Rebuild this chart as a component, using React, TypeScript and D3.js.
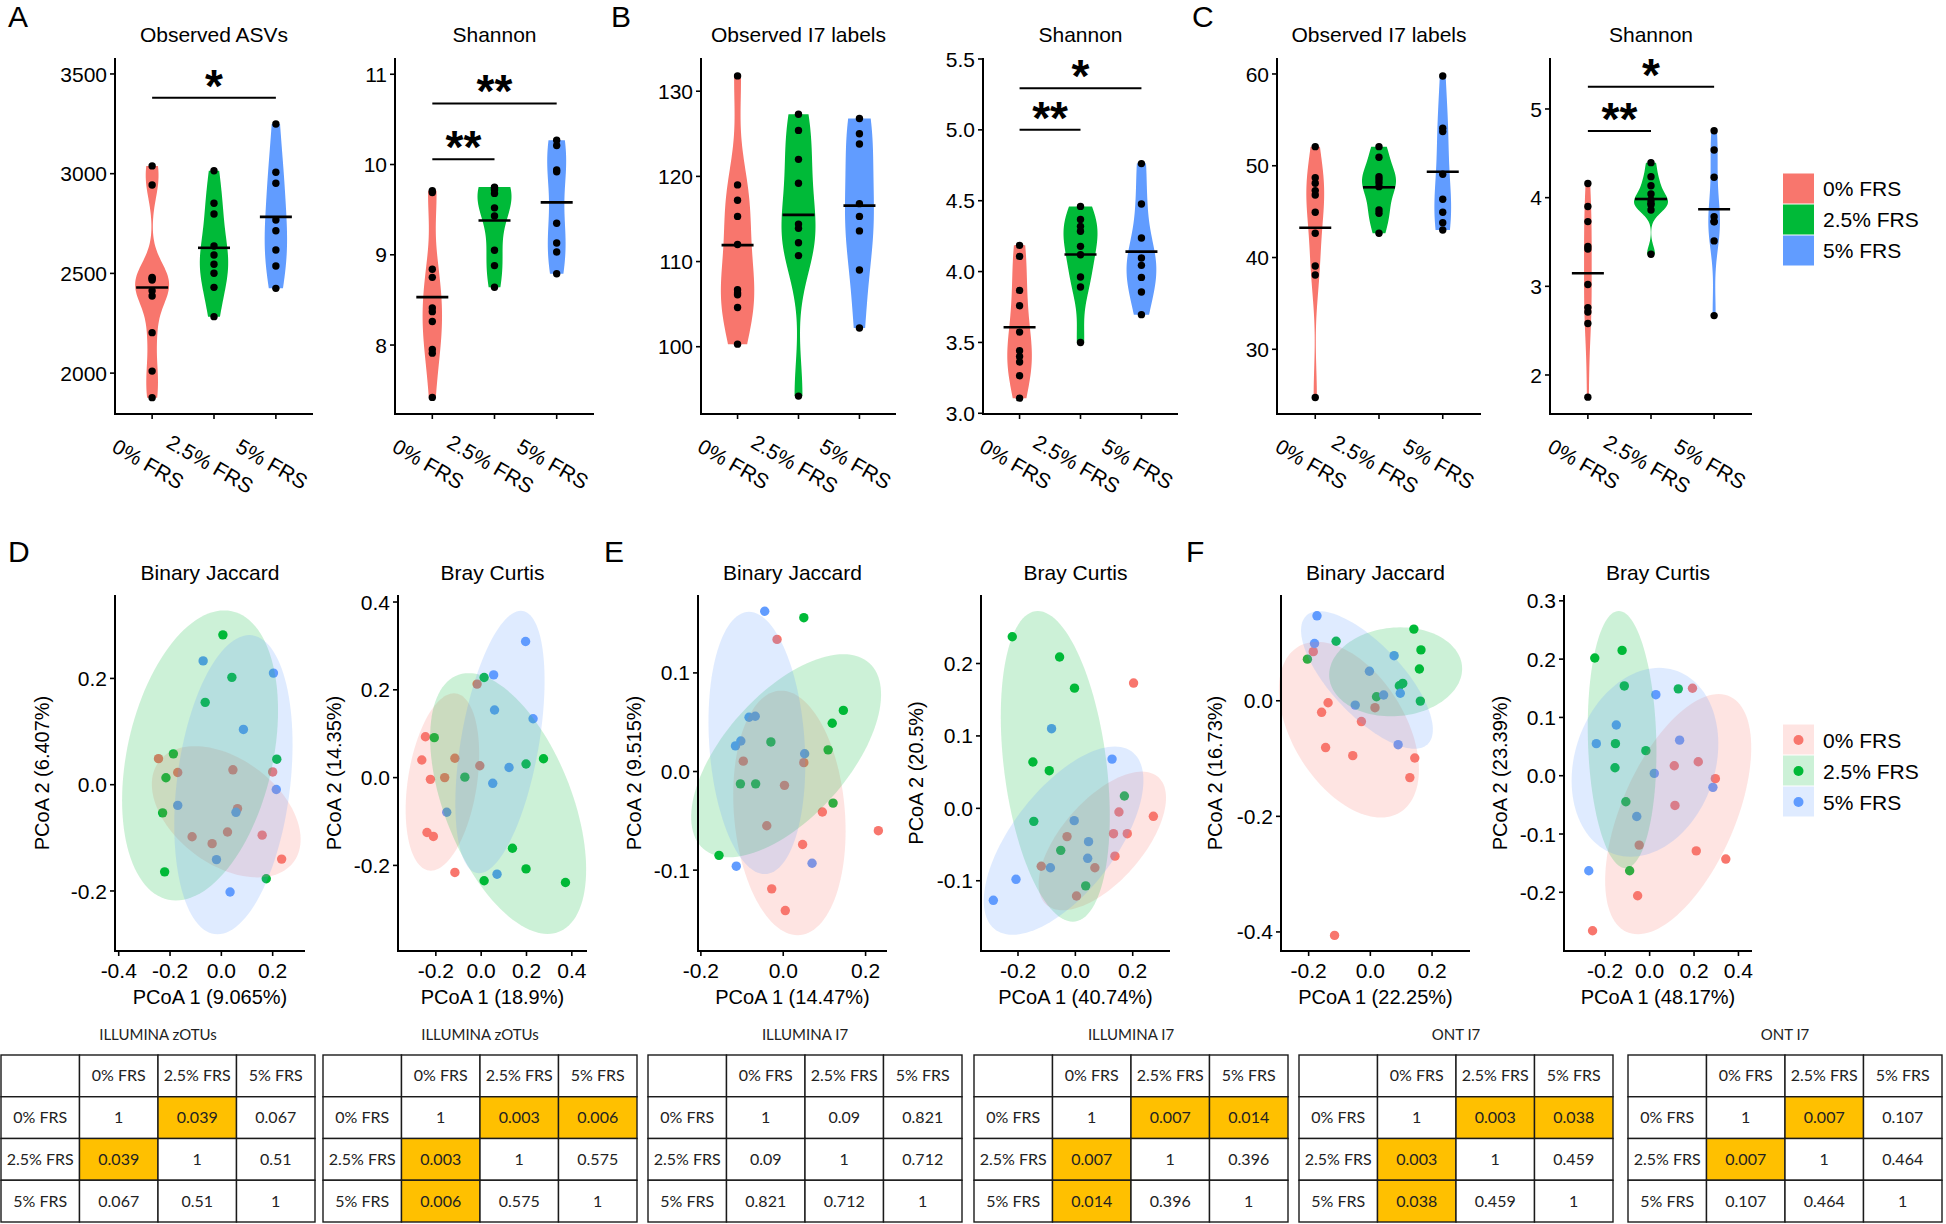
import React from "react";
import * as d3 from "d3";

// ---------- shared categories ----------
const groups = ["0% FRS", "2.5% FRS", "5% FRS"];
const groupColors = ["#F8766D", "#00BA38", "#619CFF"];

// ---------- violin data (A, B, C) ----------
const asvObserved = [
  [3039, 2943, 2480, 2475, 2467, 2413, 2387, 2203, 2010, 1877],
  [3015, 2852, 2798, 2637, 2592, 2546, 2501, 2430, 2283],
  [3249, 3007, 2952, 2768, 2714, 2617, 2537, 2425],
];
const asvShannon = [
  [9.71, 9.69, 8.84, 8.75, 8.41, 8.37, 8.26, 7.95, 7.91, 7.42],
  [9.75, 9.74, 9.72, 9.68, 9.52, 9.43, 9.05, 8.88, 8.64],
  [10.27, 10.21, 9.94, 9.92, 9.35, 9.13, 9.03, 8.79],
];
const illuminaObserved = [
  [131.8, 119.0, 117.2, 115.3, 112.0, 106.7, 106.3, 106.1, 104.6, 100.3],
  [127.3, 125.4, 122.0, 119.2, 114.4, 113.9, 112.2, 110.7, 94.2],
  [126.8, 125.0, 123.8, 116.8, 115.3, 113.6, 109.0, 102.2],
];
const illuminaShannon = [
  [4.185, 4.107, 3.867, 3.759, 3.573, 3.441, 3.401, 3.362, 3.265, 3.107],
  [4.46, 4.367, 4.319, 4.284, 4.178, 4.119, 3.962, 3.891, 3.5],
  [4.762, 4.477, 4.237, 4.096, 4.044, 3.959, 3.856, 3.696],
];
const ontObserved = [
  [52.08, 48.7, 48.09, 47.29, 46.82, 44.93, 42.65, 39.08, 38.1, 24.74],
  [52.08, 50.93, 48.81, 48.5, 48.16, 47.72, 45.19, 44.83, 42.65],
  [59.78, 54.08, 53.72, 49.07, 46.35, 44.93, 43.8, 43.0],
];
const ontShannon = [
  [4.16, 3.9, 3.73, 3.45, 3.42, 3.02, 2.76, 2.71, 2.58, 1.75],
  [4.395, 4.237, 4.135, 4.042, 3.974, 3.937, 3.92, 3.86, 3.362],
  [4.755, 4.538, 4.23, 3.786, 3.73, 3.729, 3.512, 2.67],
];

// significance brackets: [fromGroup, toGroup, yValue, label]
const sigAsvObserved = [[0, 2, 3381, "*"]];
const sigAsvShannon = [[0, 2, 10.676, "**"], [0, 1, 10.059, "**"]];
const sigIlluminaShannon = [[0, 2, 5.294, "*"], [0, 1, 5.0, "**"]];
const sigOntShannon = [[0, 2, 5.251, "*"], [0, 1, 4.752, "**"]];

// y ticks
const ticksAsvObserved = [2000, 2500, 3000, 3500];
const ticksAsvShannon = [8, 9, 10, 11];
const ticksIlluminaObserved = [100, 110, 120, 130];
const ticksIlluminaShannon = [3.0, 3.5, 4.0, 4.5, 5.0, 5.5];
const ticksOntObserved = [30, 40, 50, 60];
const ticksOntShannon = [2, 3, 4, 5];

// ---------- PCoA data (D, E, F) : points per group [PCoA1, PCoA2] ----------
const pcoaD1 = [
  [[-0.245, 0.049], [-0.17, 0.023], [0.045, 0.028], [0.2, 0.024], [0.063, -0.045], [-0.114, -0.098], [0.024, -0.089], [-0.036, -0.111], [0.159, -0.095], [0.235, -0.14]],
  [[0.006, 0.282], [0.041, 0.202], [-0.063, 0.155], [-0.187, 0.058], [0.216, 0.048], [-0.216, 0.013], [-0.229, -0.053], [-0.221, -0.164], [0.175, -0.177]],
  [[-0.071, 0.233], [0.203, 0.21], [0.086, 0.104], [0.214, -0.009], [-0.17, -0.039], [0.057, -0.052], [-0.019, -0.141], [0.034, -0.202]],
];
const pcoaD2 = [
  [[-0.018, 0.213], [-0.246, 0.093], [-0.262, 0.04], [-0.116, 0.044], [-0.006, 0.027], [-0.224, -0.004], [-0.161, 0.0], [-0.239, -0.125], [-0.211, -0.134], [-0.116, -0.216]],
  [[0.013, 0.228], [-0.207, 0.091], [0.198, 0.031], [0.275, 0.043], [-0.072, 0.001], [0.138, -0.161], [0.198, -0.208], [0.013, -0.235], [0.372, -0.239]],
  [[0.196, 0.31], [0.055, 0.234], [0.059, 0.154], [0.229, 0.134], [0.123, 0.023], [0.051, -0.013], [-0.152, -0.079], [0.07, -0.22]],
];
const pcoaE1 = [
  [[-0.015, 0.134], [-0.097, 0.0105], [0.05, 0.009], [0.003, -0.014], [0.095, -0.041], [-0.04, -0.055], [0.231, -0.06], [0.047, -0.074], [-0.028, -0.119], [0.005, -0.141]],
  [[0.05, 0.156], [0.146, 0.062], [0.119, 0.049], [-0.03, 0.03], [0.109, 0.022], [-0.104, -0.0125], [-0.067, -0.0125], [0.121, -0.032], [-0.156, -0.085]],
  [[-0.045, 0.1625], [-0.083, 0.055], [-0.068, 0.056], [-0.103, 0.031], [-0.116, 0.026], [0.052, 0.018], [-0.114, -0.096], [0.07, -0.093]],
];
const pcoaE2 = [
  [[0.203, 0.173], [0.272, -0.011], [0.152, -0.005], [0.133, -0.035], [0.181, -0.035], [-0.029, -0.039], [0.138, -0.066], [-0.119, -0.08], [0.068, -0.082], [0.004, -0.121]],
  [[-0.22, 0.237], [-0.055, 0.209], [-0.003, 0.166], [-0.148, 0.064], [-0.091, 0.052], [0.171, 0.017], [-0.145, -0.018], [-0.051, -0.058], [0.036, -0.107]],
  [[-0.083, 0.11], [0.128, 0.068], [-0.004, -0.017], [0.046, -0.046], [0.043, -0.069], [-0.087, -0.082], [-0.207, -0.098], [-0.286, -0.127]],
];
const pcoaF1 = [
  [[-0.185, 0.085], [-0.137, -0.0035], [-0.158, -0.02], [0.015, -0.012], [-0.029, -0.036], [-0.145, -0.081], [-0.057, -0.095], [0.144, -0.099], [0.128, -0.133], [-0.116, -0.406]],
  [[0.141, 0.124], [-0.111, 0.103], [0.164, 0.088], [0.159, 0.055], [-0.204, 0.072], [0.105, 0.03], [0.094, 0.026], [0.02, 0.007], [0.162, -0.0006]],
  [[-0.173, 0.147], [-0.181, 0.099], [0.077, 0.078], [-0.003, 0.051], [0.043, 0.01], [0.097, 0.013], [-0.049, -0.0075], [0.09, -0.076]],
];
const pcoaF2 = [
  [[0.193, 0.15], [0.219, 0.024], [0.111, 0.017], [0.296, -0.005], [0.114, -0.051], [-0.047, -0.119], [0.21, -0.129], [0.343, -0.143], [-0.054, -0.206], [-0.257, -0.266]],
  [[-0.247, 0.202], [-0.124, 0.215], [-0.114, 0.154], [0.129, 0.149], [-0.154, 0.055], [-0.017, 0.043], [-0.156, 0.0137], [-0.107, -0.0446], [-0.09, -0.163]],
  [[0.028, 0.139], [-0.15, 0.087], [-0.24, 0.055], [0.135, 0.061], [0.021, 0.004], [0.285, -0.02], [-0.058, -0.07], [-0.274, -0.163]],
];

// confidence ellipses per group: [centerX, centerY, topOffsetX, topOffsetY, halfWidthAtCenter] (data units)
const ellD1 = [[0.019, -0.051, -0.122, 0.1235, 0.263], [-0.083, 0.055, 0.094, 0.273, 0.289], [0.047, 0.0, 0.062, 0.2815, 0.222]];
const ellD2 = [[-0.171, -0.01, 0.051, 0.202, 0.154], [0.119, -0.059, -0.174, 0.297, 0.297], [0.083, 0.081, 0.092, 0.299, 0.174]];
const ellE1 = [[0.015, -0.042, -0.02, 0.124, 0.135], [0.007, 0.016, 0.139, 0.103, 0.184], [-0.064, 0.029, -0.019, 0.133, 0.116]];
const ellE2 = [[0.094, -0.045, 0.138, 0.0957, 0.174], [-0.07, 0.058, -0.061, 0.2145, 0.18], [-0.041, -0.0446, 0.178, 0.13, 0.214]];
const ellF1 = [[-0.0695, -0.05, -0.1035, 0.152, 0.202], [0.082, 0.05, 0.015, 0.077, 0.215], [-0.011, 0.036, -0.154, 0.119, 0.148]];
const ellF2 = [[0.1286, -0.066, 0.182, 0.206, 0.274], [-0.124, 0.062, -0.015, 0.2206, 0.154], [-0.021, 0.023, 0.064, 0.162, 0.324]];

const ticksD1x = [-0.4, -0.2, 0.0, 0.2];
const ticksD1y = [-0.2, 0.0, 0.2];
const ticksD2x = [-0.2, 0.0, 0.2, 0.4];
const ticksD2y = [-0.2, 0.0, 0.2, 0.4];
const ticksE1x = [-0.2, 0.0, 0.2];
const ticksE1y = [-0.1, 0.0, 0.1];
const ticksE2x = [-0.2, 0.0, 0.2];
const ticksE2y = [-0.1, 0.0, 0.1, 0.2];
const ticksF1x = [-0.2, 0.0, 0.2];
const ticksF1y = [-0.4, -0.2, 0.0];
const ticksF2x = [-0.2, 0.0, 0.2, 0.4];
const ticksF2y = [-0.2, -0.1, 0.0, 0.1, 0.2, 0.3];

// ---------- PERMANOVA p-value tables ----------
const tableTitles = ["ILLUMINA zOTUs", "ILLUMINA zOTUs", "ILLUMINA I7", "ILLUMINA I7", "ONT I7", "ONT I7"];
const pZotuJaccard = [[1, 0.039, 0.067], [0.039, 1, 0.51], [0.067, 0.51, 1]];
const pZotuBray = [[1, 0.003, 0.006], [0.003, 1, 0.575], [0.006, 0.575, 1]];
const pIllI7Jaccard = [[1, 0.09, 0.821], [0.09, 1, 0.712], [0.821, 0.712, 1]];
const pIllI7Bray = [[1, 0.007, 0.014], [0.007, 1, 0.396], [0.014, 0.396, 1]];
const pOntI7Jaccard = [[1, 0.003, 0.038], [0.003, 1, 0.459], [0.038, 0.459, 1]];
const pOntI7Bray = [[1, 0.007, 0.107], [0.007, 1, 0.464], [0.107, 0.464, 1]];

// ---------- layout ----------
const FONT = "'Liberation Sans', Arial, Helvetica, sans-serif";
const TFONT = "Lato, 'Open Sans', sans-serif";
const V_TOP = 58;
const V_BOTTOM = 414;
const P_TOP = 595;
const P_BOTTOM = 951;

const violinPanels = [
  { title: "Observed ASVs", data: asvObserved, domain: [1795, 3580], ticks: ticksAsvObserved, digits: 0, left: 115, right: 313, sig: sigAsvObserved },
  { title: "Shannon", data: asvShannon, domain: [7.236, 11.18], ticks: ticksAsvShannon, digits: 0, left: 395, right: 594, sig: sigAsvShannon },
  { title: "Observed I7 labels", data: illuminaObserved, domain: [92.1, 133.9], ticks: ticksIlluminaObserved, digits: 0, left: 701, right: 896, sig: [] },
  { title: "Shannon", data: illuminaShannon, domain: [2.995, 5.507], ticks: ticksIlluminaShannon, digits: 1, left: 983, right: 1178, sig: sigIlluminaShannon },
  { title: "Observed I7 labels", data: ontObserved, domain: [22.95, 61.74], ticks: ticksOntObserved, digits: 0, left: 1277, right: 1481, sig: [] },
  { title: "Shannon", data: ontShannon, domain: [1.56, 5.575], ticks: ticksOntShannon, digits: 0, left: 1550, right: 1752, sig: sigOntShannon },
];

const pcoaPanels = [
  { title: "Binary Jaccard", xTitle: "PCoA 1 (9.065%)", yTitle: "PCoA 2 (6.407%)", pts: pcoaD1, ell: ellD1, xd: [-0.4145, 0.326], yd: [-0.313, 0.357], xt: ticksD1x, yt: ticksD1y, left: 115, right: 305, yTitleX: 42 },
  { title: "Bray Curtis", xTitle: "PCoA 1 (18.9%)", yTitle: "PCoA 2 (14.35%)", pts: pcoaD2, ell: ellD2, xd: [-0.367, 0.467], yd: [-0.395, 0.416], xt: ticksD2x, yt: ticksD2y, left: 398, right: 587, yTitleX: 334 },
  { title: "Binary Jaccard", xTitle: "PCoA 1 (14.47%)", yTitle: "PCoA 2 (9.515%)", pts: pcoaE1, ell: ellE1, xd: [-0.207, 0.252], yd: [-0.182, 0.179], xt: ticksE1x, yt: ticksE1y, left: 698, right: 887, yTitleX: 634 },
  { title: "Bray Curtis", xTitle: "PCoA 1 (40.74%)", yTitle: "PCoA 2 (20.5%)", pts: pcoaE2, ell: ellE2, xd: [-0.329, 0.33], yd: [-0.197, 0.2946], xt: ticksE2x, yt: ticksE2y, left: 981, right: 1170, yTitleX: 916 },
  { title: "Binary Jaccard", xTitle: "PCoA 1 (22.25%)", yTitle: "PCoA 2 (16.73%)", pts: pcoaF1, ell: ellF1, xd: [-0.2896, 0.323], yd: [-0.433, 0.183], xt: ticksF1x, yt: ticksF1y, left: 1281, right: 1470, yTitleX: 1215 },
  { title: "Bray Curtis", xTitle: "PCoA 1 (48.17%)", yTitle: "PCoA 2 (23.39%)", pts: pcoaF2, ell: ellF2, xd: [-0.3856, 0.461], yd: [-0.3007, 0.31], xt: ticksF2x, yt: ticksF2y, left: 1564, right: 1752, yTitleX: 1500 },
];

const tables = [
  { title: tableTitles[0], p: pZotuJaccard, left: 1 },
  { title: tableTitles[1], p: pZotuBray, left: 323 },
  { title: tableTitles[2], p: pIllI7Jaccard, left: 648 },
  { title: tableTitles[3], p: pIllI7Bray, left: 974 },
  { title: tableTitles[4], p: pOntI7Jaccard, left: 1299 },
  { title: tableTitles[5], p: pOntI7Bray, left: 1628 },
];

const panelLetters = [
  { t: "A", x: 8, y: 27 },
  { t: "B", x: 611, y: 27 },
  { t: "C", x: 1192, y: 27 },
  { t: "D", x: 8, y: 562 },
  { t: "E", x: 604, y: 562 },
  { t: "F", x: 1186, y: 562 },
];

// ---------- helpers ----------
function kde(vals: number[]) {
  const n = vals.length;
  const s = [...vals].sort(d3.ascending);
  const sd = d3.deviation(vals) as number;
  const iqr = (d3.quantile(s, 0.75) as number) - (d3.quantile(s, 0.25) as number);
  let lo = Math.min(sd, iqr / 1.34);
  if (!(lo > 0)) lo = sd || 1;
  const bw = 0.9 * lo * Math.pow(n, -0.2);
  const mn = s[0];
  const mx = s[n - 1];
  const steps = 150;
  return d3.range(steps + 1).map((i) => {
    const v = mn + ((mx - mn) * i) / steps;
    const d = d3.sum(vals, (xi) => Math.exp(-0.5 * ((v - xi) / bw) ** 2)) / (n * bw * Math.sqrt(2 * Math.PI));
    return [v, d];
  });
}

function fmt(v: number, digits: number) {
  return v.toFixed(digits);
}

function ViolinPanel({ p }: any) {
  const y = d3.scaleLinear().domain(p.domain).range([V_BOTTOM, V_TOP]);
  const x = d3.scalePoint().domain(groups).range([p.left, p.right]).padding(0.6);
  const dens = p.data.map((vals: number[]) => kde(vals));
  const maxD = d3.max(dens.flat(), (d: any) => d[1]) as number;
  const w = d3.scaleLinear().domain([0, maxD]).range([0, 17]);
  const mid = (p.left + p.right) / 2;
  return (
    <g>
      <text x={mid} y={42} textAnchor="middle" fontSize={21} fontFamily={FONT}>{p.title}</text>
      {dens.map((dd: any, gi: number) => {
        const cx = x(groups[gi]) as number;
        const area = d3
          .area<any>()
          .y((d) => y(d[0]))
          .x0((d) => cx - w(d[1]))
          .x1((d) => cx + w(d[1]));
        return <path key={gi} d={area(dd) as string} fill={groupColors[gi]} stroke="none" />;
      })}
      {p.data.map((vals: number[], gi: number) => {
        const cx = x(groups[gi]) as number;
        const m = d3.mean(vals) as number;
        return (
          <g key={gi}>
            {vals.map((v, i) => (
              <circle key={i} cx={cx} cy={y(v)} r={3.7} fill="#000" />
            ))}
            <line x1={cx - 16} x2={cx + 16} y1={y(m)} y2={y(m)} stroke="#000" strokeWidth={2.6} />
          </g>
        );
      })}
      {p.sig.map((s: any, i: number) => {
        const x1 = x(groups[s[0]]) as number;
        const x2 = x(groups[s[1]]) as number;
        const yy = y(s[2]);
        return (
          <g key={i}>
            <line x1={x1} x2={x2} y1={yy} y2={yy} stroke="#000" strokeWidth={2} />
            <text x={(x1 + x2) / 2} y={yy + 4} textAnchor="middle" fontSize={46} fontWeight="bold" fontFamily={FONT}>{s[3]}</text>
          </g>
        );
      })}
      <line x1={p.left} x2={p.left} y1={V_TOP} y2={V_BOTTOM + 1} stroke="#000" strokeWidth={2} />
      <line x1={p.left - 1} x2={p.right} y1={V_BOTTOM} y2={V_BOTTOM} stroke="#000" strokeWidth={2} />
      {p.ticks.map((t: number) => (
        <g key={t}>
          <line x1={p.left - 5} x2={p.left} y1={y(t)} y2={y(t)} stroke="#000" strokeWidth={1.6} />
          <text x={p.left - 8} y={y(t)} dy="0.36em" textAnchor="end" fontSize={21} fontFamily={FONT}>{fmt(t, p.digits)}</text>
        </g>
      ))}
      {groups.map((g) => {
        const cx = x(g) as number;
        return (
          <g key={g}>
            <line x1={cx} x2={cx} y1={V_BOTTOM} y2={V_BOTTOM + 5} stroke="#000" strokeWidth={1.6} />
            <text transform={`translate(${cx - 4},${V_BOTTOM + 50}) rotate(30)`} textAnchor="middle" dy="0.35em" fontSize={21} fontFamily={FONT}>{g}</text>
          </g>
        );
      })}
    </g>
  );
}

function PcoaPanel({ p }: any) {
  const x = d3.scaleLinear().domain(p.xd).range([p.left, p.right]);
  const y = d3.scaleLinear().domain(p.yd).range([P_BOTTOM, P_TOP]);
  const mid = (p.left + p.right) / 2;
  const line = d3.line<any>().curve(d3.curveLinearClosed);
  return (
    <g>
      <text x={mid} y={580} textAnchor="middle" fontSize={21} fontFamily={FONT}>{p.title}</text>
      {p.pts.map((pts: number[][], gi: number) =>
        pts.map((pt, i) => <circle key={gi + "-" + i} cx={x(pt[0])} cy={y(pt[1])} r={4.7} fill={groupColors[gi]} />)
      )}
      {p.ell.map((e: number[], gi: number) => {
        const path = d3.range(0, 120).map((i) => {
          const t = (2 * Math.PI * i) / 120;
          return [x(e[0] + e[2] * Math.cos(t) + e[4] * Math.sin(t)), y(e[1] + e[3] * Math.cos(t))];
        });
        return <path key={gi} d={line(path) as string} fill={groupColors[gi]} fillOpacity={0.2} stroke="none" />;
      })}
      <line x1={p.left} x2={p.left} y1={P_TOP} y2={P_BOTTOM + 1} stroke="#000" strokeWidth={2} />
      <line x1={p.left - 1} x2={p.right} y1={P_BOTTOM} y2={P_BOTTOM} stroke="#000" strokeWidth={2} />
      {p.yt.map((t: number) => (
        <g key={t}>
          <line x1={p.left - 5} x2={p.left} y1={y(t)} y2={y(t)} stroke="#000" strokeWidth={1.6} />
          <text x={p.left - 8} y={y(t)} dy="0.36em" textAnchor="end" fontSize={21} fontFamily={FONT}>{fmt(t, 1)}</text>
        </g>
      ))}
      {p.xt.map((t: number) => (
        <g key={t}>
          <line x1={x(t)} x2={x(t)} y1={P_BOTTOM} y2={P_BOTTOM + 5} stroke="#000" strokeWidth={1.6} />
          <text x={x(t)} y={978} textAnchor="middle" fontSize={21} fontFamily={FONT}>{fmt(t, 1)}</text>
        </g>
      ))}
      <text x={mid} y={1004} textAnchor="middle" fontSize={20} fontFamily={FONT}>{p.xTitle}</text>
      <text transform={`translate(${p.yTitleX},${(P_TOP + P_BOTTOM) / 2}) rotate(-90)`} textAnchor="middle" dy="0.35em" fontSize={20} fontFamily={FONT}>{p.yTitle}</text>
    </g>
  );
}

function PTable({ t }: any) {
  const colW = 78.5;
  const rowH = 41.75;
  const top = 1055;
  const header = ["", ...groups];
  const cells: any[] = [];
  for (let r = 0; r < 4; r++) {
    for (let c = 0; c < 4; c++) {
      let label = "";
      let fill = "#fff";
      if (r === 0) label = header[c];
      else if (c === 0) label = groups[r - 1];
      else {
        const v = t.p[r - 1][c - 1];
        label = String(v);
        if (v < 0.05) fill = "#FFC000";
      }
      const x0 = t.left + c * colW;
      const y0 = top + r * rowH;
      cells.push(
        <g key={r + "-" + c}>
          <rect x={x0} y={y0} width={colW} height={rowH} fill={fill} stroke="#1a1a1a" strokeWidth={1.4} />
          <text x={x0 + colW / 2} y={y0 + rowH / 2} dy="0.35em" textAnchor="middle" fontSize={16} fontFamily={TFONT} fill="#222">{label}</text>
        </g>
      );
    }
  }
  return (
    <g>
      <text x={t.left + 2 * colW} y={1040} textAnchor="middle" fontSize={15} fontFamily={TFONT} fill="#222">{t.title}</text>
      {cells}
    </g>
  );
}

export default function App() {
  return (
    <svg width={1946} height={1224} style={{ position: "absolute", left: 0, top: 0, background: "#fff" }}>
      <rect x={0} y={0} width={1946} height={1224} fill="#fff" />
      {panelLetters.map((l) => (
        <text key={l.t} x={l.x} y={l.y} fontSize={30} fontFamily={FONT}>{l.t}</text>
      ))}
      {violinPanels.map((p, i) => (
        <ViolinPanel key={i} p={p} />
      ))}
      {pcoaPanels.map((p, i) => (
        <PcoaPanel key={i} p={p} />
      ))}
      {/* violin legend */}
      <g>
        {groups.map((g, i) => (
          <g key={g}>
            <rect x={1783} y={173.5 + i * 31} width={31} height={30} fill={groupColors[i]} />
            <text x={1823} y={188.5 + i * 31} dy="0.36em" fontSize={21} fontFamily={FONT}>{g}</text>
          </g>
        ))}
      </g>
      {/* pcoa legend */}
      <g>
        {groups.map((g, i) => (
          <g key={g}>
            <circle cx={1798.5} cy={740 + i * 31} r={5} fill={groupColors[i]} />
            <rect x={1783} y={724.5 + i * 31} width={31} height={30} fill={groupColors[i]} fillOpacity={0.2} />
            <text x={1823} y={740 + i * 31} dy="0.36em" fontSize={21} fontFamily={FONT}>{g}</text>
          </g>
        ))}
      </g>
      {tables.map((t, i) => (
        <PTable key={i} t={t} />
      ))}
    </svg>
  );
}
